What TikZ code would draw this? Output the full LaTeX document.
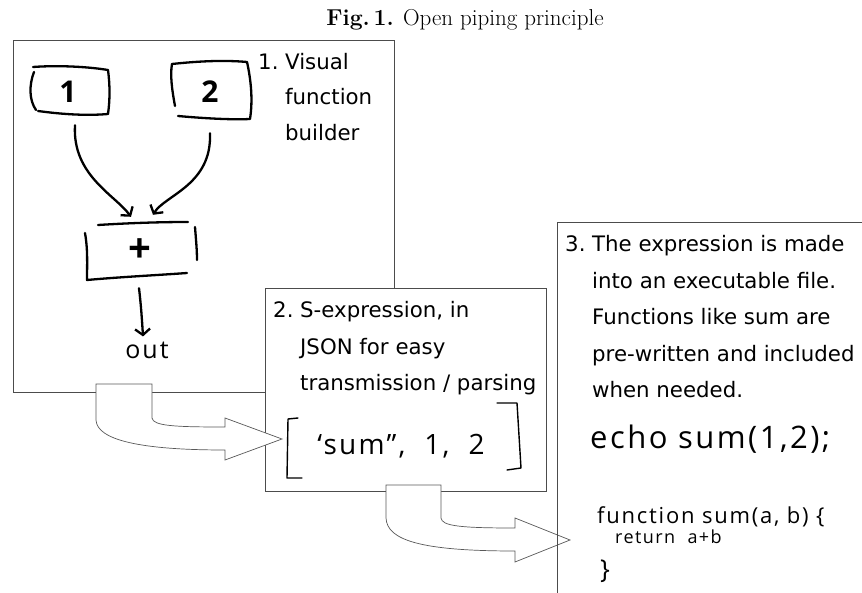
\documentclass[tikz,border=0pt]{standalone}
\usepackage{fontspec}
\usetikzlibrary{arrows.meta}
\newfontfamily\hand{DejaVu Sans}
\newfontfamily\scrawl{Open Sans}
\newfontfamily\scrawlwide[LetterSpace=8]{Open Sans}
\begin{document}
\begin{tikzpicture}[x=1pt,y=-1pt,
  panel/.style={draw=black!70, line width=0.8pt, fill=white, anchor=north west, inner sep=0pt},
  txt/.style={font=\hand\fontsize{21.3}{25}\selectfont, anchor=base west, inner sep=0pt},
  pen/.style={line width=2.3pt, line cap=round, line join=round},
  thinpen/.style={line width=1.4pt, line cap=round, line join=round},
  blockarrow/.style={draw=black!65, line width=0.7pt, fill=white, line join=miter},
  barb/.style={-{Straight Barb[length=6pt,width=15pt,line width=2.3pt]}},
  hw/.style={inner sep=0pt, anchor=base west},
  digit/.style={font=\scrawl\bfseries\fontsize{30}{30}\selectfont}]
\clip (0,0) rectangle (862,593);
\fill[white] (0,0) rectangle (862,593);

% title
\node[font=\fontsize{23}{27}\selectfont] (title) at (465,20) {\textbf{Fig.\,1.} Open piping principle};

% ---------- panel 1 ----------
\node[panel, minimum width=381pt, minimum height=352pt] (p1) at (13,40) {};
\node[txt] (t1a) at (258,70) {1.};
\node[txt] (t1b) at (285,70) {Visual};
\node[txt] (t1c) at (285,105) {function};
\node[txt] (t1d) at (285,141) {builder};

% box 1
\draw[pen] (33,67) .. controls (60,65) and (90,67) .. (108,70)
  .. controls (110,85) and (110,100) .. (108,114)
  .. controls (85,116) and (60,114) .. (38,111);
\draw[pen] (34,72) .. controls (29,85) and (29,100) .. (36,110);
\node[inner sep=0pt, minimum width=76pt, minimum height=46pt] (n1) at (70,91) {};
\node[digit] (d1) at (68,92) {1};
% box 2
\draw[pen] (172,64) .. controls (200,61) and (225,60) .. (247,62)
  .. controls (251,80) and (253,100) .. (250,119)
  .. controls (230,120) and (200,118) .. (178,116);
\draw[pen] (172,64) .. controls (170,75) and (172,90) .. (175,106);
\node[inner sep=0pt, minimum width=78pt, minimum height=52pt] (n2) at (210,90) {};
\node[digit] (d2) at (210,92) {2};
% plus box
\draw[pen] (98,225) .. controls (130,223) and (160,222) .. (188,222);
\draw[pen] (85,233) .. controls (88,250) and (87,265) .. (87,280)
  .. controls (120,277) and (160,275) .. (187,273);
\draw[pen] (195,227) .. controls (196,240) and (197,250) .. (197,260);
\node[inner sep=0pt, minimum width=100pt, minimum height=52pt] (plus) at (140,250) {};
\node[font=\scrawl\bfseries\fontsize{40}{40}\selectfont] (pl) at (140,251) {+};
% connectors
\draw[pen, barb] ([shift={(5,11)}]n1.south) .. controls (72,175) and (115,195) .. ([shift={(-9,-7)}]plus.north);
\draw[pen, barb] ([shift={(0,17)}]n2.south) .. controls (212,185) and (165,195) .. ([shift={(13,-9)}]plus.north);
\node[font=\scrawlwide\fontsize{25}{25}\selectfont, inner sep=0pt] (out) at (147,350) {out};
\draw[pen, barb] ([shift={(-1,12)}]plus.south) .. controls (141,305) and (142,320) .. ([shift={(-4,-5)}]out.north);

% ---------- panel 2 ----------
\node[panel, minimum width=281pt, minimum height=203pt] (p2) at (265,288) {};
\node[txt] (t2a) at (273,318) {2.};
\node[txt] (t2b) at (300,318) {S-expression, in};
\node[txt] (t2c) at (300,354.5) {JSON for easy};
\node[txt] (t2d) at (300,391) {transmission / parsing};
\draw[thinpen] (298,418) -- (288,419) -- (287,478) -- (302,478);
\draw[thinpen] (497,403) -- (517,403) -- (521,468) -- (507,470);
\node[font=\scrawlwide\fontsize{28}{28}\selectfont, inner sep=0pt, anchor=base] (sexp) at (401,454) {‘sum”,\ \ 1,\ \ 2};

% arrow 1
\draw[blockarrow] (96,384) -- (152,384) -- (152,418)
  .. controls (153,426) and (175,427) .. (225,427) -- (225,418) -- (282,439)
  -- (225,460) -- (225,450) .. controls (140,450) and (97,440) .. (96,420) -- cycle;

% ---------- panel 3 ----------
\node[txt] (t3a) at (565,252) {3.};
\node[txt] (t3b) at (592,252) {The expression is made};
\node[txt] (t3c) at (592,288.5) {into an executable file.};
\node[txt] (t3d) at (592,325) {Functions like sum are};
\node[txt] (t3e) at (592,361.5) {pre-written and included};
\node[txt] (t3f) at (592,398) {when needed.};
\node[hw, font=\scrawlwide\fontsize{31}{31}\selectfont] (echo) at (590,448) {echo sum(1,2);};
\node[hw, font=\scrawlwide\fontsize{22}{22}\selectfont] (fn) at (597,523) {function sum(a, b) \{};
\node[hw, font=\scrawlwide\fontsize{18}{18}\selectfont] (ret) at (615,543) {return\ \ a+b};
\node[hw, font=\scrawl\fontsize{26}{26}\selectfont] (cb) at (600,578) {\}};

% arrow 2
\draw[blockarrow] (386,485) -- (441,485) -- (441,518)
  .. controls (442,526) and (460,528) .. (515,528) -- (515,518) -- (570,540)
  -- (515,562) -- (515,551) .. controls (420,551) and (387,540) .. (386,518) -- cycle;

% panel 3 frame (open at right and bottom)
\coordinate (p3nw) at (557,222);
\draw[draw=black!70, line width=0.8pt] (p3nw -| 870,0) -- (p3nw) -- (p3nw |- 0,600);
\end{tikzpicture}
\end{document}
